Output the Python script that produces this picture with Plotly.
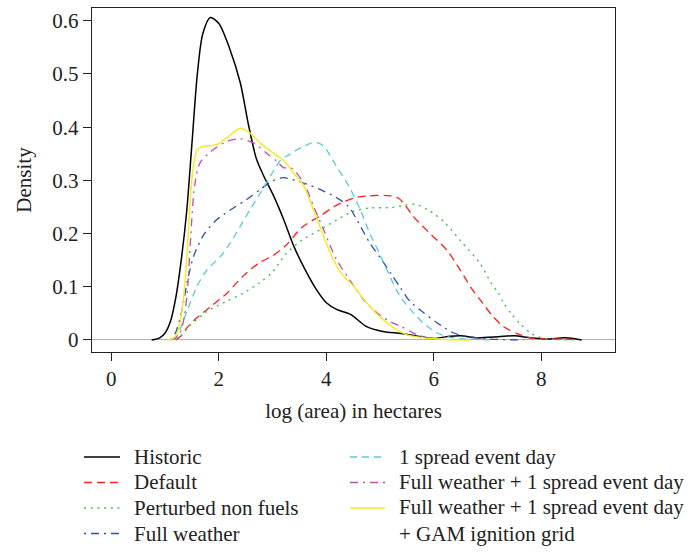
import plotly.graph_objects as go

# ---------------- data ----------------
series_names = [
    "Historic",
    "Default",
    "Perturbed non fuels",
    "Full weather",
    "1 spread event day",
    "Full weather + 1 spread event day",
    "Full weather + 1 spread event day<br>+ GAM ignition grid",
]

historic_x = [0.75, 0.9, 1.0, 1.1, 1.2, 1.3, 1.4, 1.5, 1.6, 1.7, 1.84, 2.0, 2.2, 2.4, 2.55,
              2.7, 2.85, 3.0, 3.2, 3.4, 3.6, 3.8, 4.0, 4.2, 4.45, 4.75, 5.05, 5.4, 5.7, 6.0,
              6.3, 6.5, 6.8, 7.2, 7.5, 7.8, 8.1, 8.45, 8.75]
historic_y = [0.0, 0.004, 0.013, 0.035, 0.08, 0.15, 0.24, 0.37, 0.5, 0.575, 0.606, 0.595, 0.548,
              0.483, 0.405, 0.34, 0.305, 0.275, 0.228, 0.175, 0.133, 0.097, 0.07, 0.057, 0.048,
              0.025, 0.016, 0.012, 0.007, 0.003, 0.007, 0.008, 0.004, 0.006, 0.008, 0.004,
              0.002, 0.004, 0.0]

default_x = [1.2, 1.3, 1.4, 1.55, 1.85, 2.15, 2.45, 2.75, 3.0, 3.25, 3.55, 3.9, 4.2, 4.55, 4.8,
             5.2, 5.35, 5.45, 5.62, 5.95, 6.25, 6.5, 6.7, 6.88, 7.1, 7.3, 7.55, 7.8, 8.2, 8.7]
default_y = [0.0, 0.008, 0.022, 0.038, 0.063, 0.088, 0.12, 0.145, 0.158, 0.178, 0.212, 0.234,
             0.254, 0.268, 0.271, 0.271, 0.266, 0.256, 0.232, 0.198, 0.168, 0.13, 0.097, 0.073,
             0.044, 0.025, 0.012, 0.004, 0.002, 0.001]

perturbed_x = [1.2, 1.3, 1.45, 1.8, 2.15, 2.45, 2.75, 3.0, 3.25, 3.55, 3.9, 4.2, 4.5, 4.8, 5.2,
               5.45, 5.65, 5.9, 6.2, 6.5, 6.85, 7.05, 7.2, 7.3, 7.45, 7.6, 7.8, 8.0, 8.3, 8.7]
perturbed_y = [0.0, 0.008, 0.026, 0.055, 0.073, 0.088, 0.107, 0.128, 0.162, 0.188, 0.208, 0.226,
               0.242, 0.248, 0.249, 0.253, 0.255, 0.244, 0.221, 0.186, 0.145, 0.11, 0.088, 0.069,
               0.048, 0.031, 0.013, 0.004, 0.001, 0.0]

fullweather_x = [1.1, 1.2, 1.3, 1.42, 1.53, 1.72, 1.96, 2.27, 2.52, 2.77, 3.0, 3.2, 3.55, 3.88,
                 4.2, 4.42, 4.6, 4.81, 5.0, 5.2, 5.38, 5.56, 5.8, 6.05, 6.35, 6.6, 7.0, 7.67]
fullweather_y = [0.0, 0.015, 0.05, 0.113, 0.157, 0.198, 0.226, 0.248, 0.264, 0.283, 0.299, 0.305,
                 0.296, 0.283, 0.267, 0.25, 0.22, 0.182, 0.155, 0.125, 0.098, 0.072, 0.052, 0.033,
                 0.014, 0.007, 0.002, 0.0]

spread_x = [1.15, 1.22, 1.3, 1.41, 1.59, 1.78, 2.03, 2.21, 2.4, 2.58, 2.77, 2.96, 3.14, 3.3, 3.58,
            3.8, 3.95, 4.19, 4.44, 4.63, 4.81, 5.0, 5.19, 5.37, 5.62, 5.8, 6.05, 6.3, 6.6, 7.05]
spread_y = [0.0, 0.007, 0.025, 0.055, 0.1, 0.132, 0.157, 0.182, 0.214, 0.245, 0.276, 0.308, 0.337,
            0.348, 0.364, 0.372, 0.364, 0.326, 0.285, 0.245, 0.2, 0.16, 0.118, 0.082, 0.051,
            0.032, 0.014, 0.005, 0.002, 0.0]

fw_spread_x = [1.1, 1.2, 1.28, 1.36, 1.42, 1.48, 1.55, 1.65, 1.9, 2.15, 2.4, 2.65, 2.89, 3.08,
               3.2, 3.35, 3.58, 3.76, 3.95, 4.19, 4.44, 4.69, 4.94, 5.19, 5.4, 5.62, 5.87, 6.1]
fw_spread_y = [0.0, 0.004, 0.013, 0.045, 0.1, 0.2, 0.29, 0.333, 0.358, 0.373, 0.378, 0.37, 0.351,
               0.336, 0.324, 0.323, 0.295, 0.252, 0.207, 0.151, 0.112, 0.076, 0.051, 0.034,
               0.025, 0.013, 0.004, 0.0]

fw_spread_gam_x = [1.05, 1.16, 1.25, 1.32, 1.38, 1.43, 1.48, 1.53, 1.6, 1.72, 1.96, 2.15, 2.4,
                   2.58, 2.77, 3.0, 3.2, 3.39, 3.58, 3.76, 3.95, 4.13, 4.32, 4.5, 4.75, 5.0,
                   5.25, 5.49, 5.8, 6.2, 6.65]
fw_spread_gam_y = [0.0, 0.004, 0.02, 0.06, 0.12, 0.2, 0.28, 0.33, 0.358, 0.364, 0.367, 0.38,
                   0.398, 0.389, 0.37, 0.352, 0.338, 0.314, 0.289, 0.245, 0.195, 0.151, 0.12,
                   0.102, 0.07, 0.043, 0.023, 0.01, 0.004, 0.001, 0.0]

x_ticks = [0, 2, 4, 6, 8]
x_tick_labels = ["0", "2", "4", "6", "8"]
y_ticks = [0, 0.1, 0.2, 0.3, 0.4, 0.5, 0.6]
y_tick_labels = ["0", "0.1", "0.2", "0.3", "0.4", "0.5", "0.6"]

xs = [historic_x, default_x, perturbed_x, fullweather_x, spread_x, fw_spread_x, fw_spread_gam_x]
ys = [historic_y, default_y, perturbed_y, fullweather_y, spread_y, fw_spread_y, fw_spread_gam_y]

# ---------------- styles ----------------
colors = ["#000000", "#FF2020", "#4DBE4D", "#2A4FB0", "#5CC8D8", "#BB4FB8", "#F2EC2A"]
dashes = ["solid", "8px,5px", "2px,4.7px", "2px,5px,8px,5px", "7px,5px", "8px,5px,2px,5px", "solid"]
widths = [1.5, 1.3, 1.4, 1.3, 1.3, 1.3, 1.5]

FONT = "Liberation Serif"
FS = 21
TXT = "#222222"

W, H = 698, 552
L, R, T, B = 92, 83, 8, 200
PW, PH = W - L - R, H - T - B


def px_x(px):
    return (px - L) / PW


def px_y(py):
    return (H - B - py) / PH


fig = go.Figure()
for i in range(len(series_names)):
    fig.add_trace(go.Scatter(
        x=xs[i], y=ys[i], mode="lines", name=series_names[i],
        line=dict(color=colors[i], dash=dashes[i], width=widths[i], shape="spline", smoothing=0.8),
        showlegend=False,
    ))

# manual legend in two columns (line keys + real text)
shapes = []
annotations = []
col_key_x = [(84, 120), (350, 385)]
col_text_x = [133, 398]
row_y0, row_dy = 457, 25.5
for i, name in enumerate(series_names):
    col, row = (0, i) if i < 4 else (1, i - 4)
    yy = row_y0 + row * row_dy
    x0, x1 = col_key_x[col]
    shapes.append(dict(type="line", xref="paper", yref="paper",
                       x0=px_x(x0), x1=px_x(x1), y0=px_y(yy), y1=px_y(yy),
                       line=dict(color=colors[i], dash=dashes[i], width=widths[i])))
    multi = "<br>" in name
    annotations.append(dict(
        xref="paper", yref="paper", x=px_x(col_text_x[col]),
        y=px_y(yy - 14) if multi else px_y(yy),
        xanchor="left", yanchor="top" if multi else "middle", align="left",
        text=name, showarrow=False, borderpad=0,
        font=dict(family=FONT, size=FS, color=TXT),
    ))

fig.update_layout(
    width=W, height=H,
    margin=dict(l=L, r=R, t=T, b=B, autoexpand=False),
    paper_bgcolor="white", plot_bgcolor="white",
    font=dict(family=FONT, size=FS, color=TXT),
    shapes=shapes, annotations=annotations,
    showlegend=False,
)
fig.update_xaxes(
    range=[-0.36, 9.37], tickvals=x_ticks, ticktext=x_tick_labels,
    ticks="outside", ticklen=8, tickwidth=1.2, tickcolor="#222",
    showline=True, linecolor="#222", linewidth=1.4, mirror=True,
    showgrid=False, zeroline=False,
    title=dict(text="log (area) in hectares", standoff=12, font=dict(family=FONT, size=FS, color=TXT)),
    tickfont=dict(family=FONT, size=FS, color=TXT),
)
fig.update_yaxes(
    range=[-0.0226, 0.624], tickvals=y_ticks, ticktext=y_tick_labels,
    ticks="outside", ticklen=8, tickwidth=1.2, tickcolor="#222",
    showline=True, linecolor="#222", linewidth=1.4, mirror=True,
    showgrid=False, zeroline=True, zerolinecolor="#B0B0B0", zerolinewidth=1,
    title=dict(text="Density", standoff=14, font=dict(family=FONT, size=FS, color=TXT)),
    tickfont=dict(family=FONT, size=FS, color=TXT),
)

fig.write_html("out.html")
